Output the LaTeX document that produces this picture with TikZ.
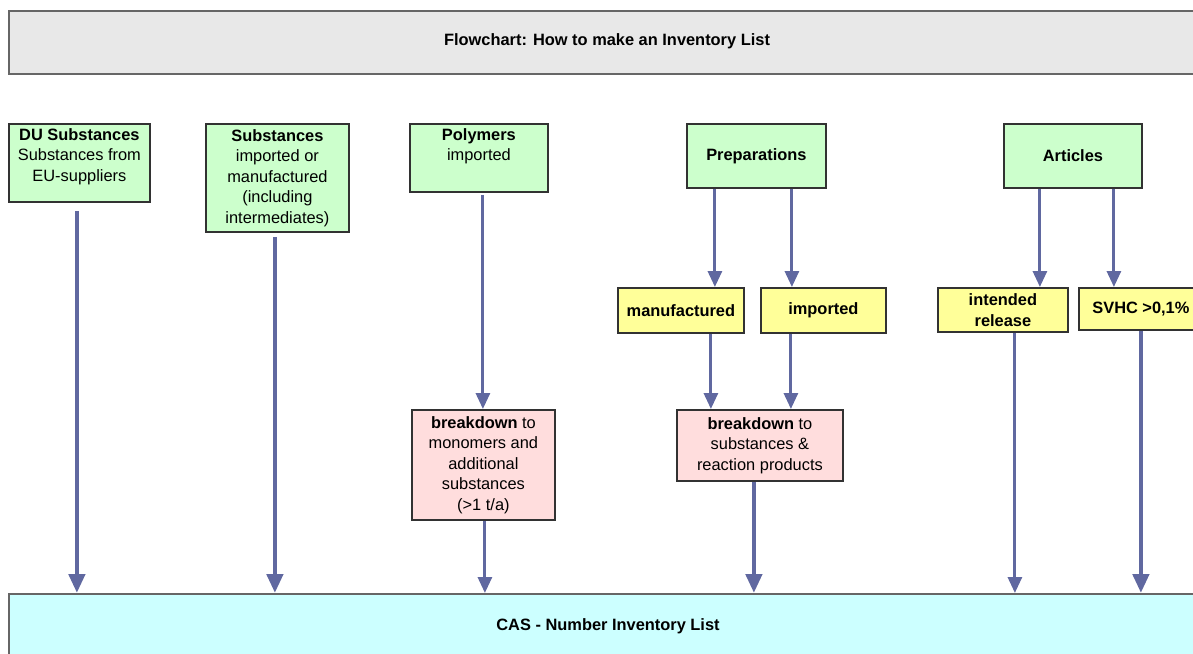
\documentclass[tikz,border=0pt]{standalone}
\usepackage{fontspec}
\setmainfont{Liberation Sans}
\usetikzlibrary{arrows.meta}
\definecolor{boxline}{RGB}{50,50,50}
\definecolor{flowblue}{RGB}{96,104,160}
\definecolor{greenfill}{RGB}{204,255,204}
\definecolor{yellowfill}{RGB}{255,255,153}
\definecolor{pinkfill}{RGB}{255,221,221}
\definecolor{cyanfill}{RGB}{204,255,255}
\definecolor{grayfill}{RGB}{232,232,232}
\tikzset{
  box/.style={draw=boxline, line width=1.8pt, rectangle, inner sep=0pt, anchor=north west},
  gbox/.style={box, fill=greenfill},
  ybox/.style={box, fill=yellowfill},
  pbox/.style={box, fill=pinkfill},
  txt/.style={align=center, inner sep=0pt, font=\fontsize{16.4}{20.5}\selectfont},
  thin arrow/.style={draw=flowblue, line width=3pt,
    -{Triangle[width=14pt,length=16pt]}, color=flowblue},
  thick arrow/.style={draw=flowblue, line width=4.5pt,
    -{Triangle[width=16pt,length=19pt]}, color=flowblue},
}
\begin{document}
\begin{tikzpicture}[x=1pt,y=-1pt]
\useasboundingbox (0,0) rectangle (1193,653);
\begin{scope}
\clip (0,0) rectangle (1193,653);

% title bar
\node[box, draw=gray!80!black, fill=grayfill, minimum width=1198pt, minimum height=63pt] (title) at (8,10) {};
\node[txt] (title-t) at (607,41.5) {\bfseries Flowchart: How to make an Inventory List};

% result bar
\node[box, draw=gray!80!black, fill=cyanfill, minimum width=1200pt, minimum height=66pt] (cas) at (8,593) {};
\node[txt] (cas-t) at (608,626) {\bfseries CAS - Number Inventory List};

% source boxes
\node[gbox, minimum width=141pt, minimum height=78pt] (du) at (8,123) {};
\node[txt, anchor=north] (du-t) at ([yshift=-5pt]du.north) {\bfseries DU Substances\\Substances from\\EU-suppliers};

\node[gbox, minimum width=143pt, minimum height=108pt] (sub) at (205,123) {};
\node[txt] (sub-t) at (sub.center) {\bfseries Substances\\imported or\\manufactured\\(including\\intermediates)};

\node[gbox, minimum width=138pt, minimum height=68pt] (poly) at (409,123) {};
\node[txt, anchor=north] (poly-t) at ([yshift=-5pt]poly.north) {\bfseries Polymers\\imported};

\node[gbox, minimum width=139pt, minimum height=64pt] (prep) at (686,123) {};
\node[txt] (prep-t) at (prep.center) {\bfseries Preparations};

\node[gbox, minimum width=138pt, minimum height=64pt] (art) at (1003,123) {};
\node[txt] (art-t) at (art.center) {\bfseries Articles};

% sub-categories
\node[ybox, minimum width=126pt, minimum height=45pt] (man) at (617,287) {};
\node[txt] (man-t) at (man.center) {\bfseries manufactured};

\node[ybox, minimum width=125pt, minimum height=45pt] (imp) at (760,287) {};
\node[txt] (imp-t) at (imp.center) {\bfseries imported};

\node[ybox, minimum width=130pt, minimum height=44pt] (ir) at (937,287) {};
\node[txt] (ir-t) at (ir.center) {\bfseries intended\\\bfseries release};

\node[ybox, minimum width=124pt, minimum height=42pt] (svhc) at (1078,287) {};
\node[txt] (svhc-t) at (svhc.center) {\bfseries SVHC >0,1\%};

% breakdown boxes
\node[pbox, minimum width=143pt, minimum height=110pt] (bd1) at (411,409) {};
\node[txt] (bd1-t) at (bd1.center) {\textbf{breakdown} to\\monomers and\\additional\\substances\\(>1 t/a)};

\node[pbox, minimum width=166pt, minimum height=71pt] (bd2) at (676,409) {};
\node[txt] (bd2-t) at (bd2.center) {\textbf{breakdown} to\\substances \&\\reaction products};

% connectors
\draw[thick arrow] ([xshift=-2.5pt,yshift=-8pt]du.south) -- ([xshift=-2.5pt]du.south |- cas.north);
\draw[thick arrow] ([xshift=-2.5pt,yshift=-4pt]sub.south) -- ([xshift=-2.5pt]sub.south |- cas.north);

\draw[thin arrow] ([xshift=4pt,yshift=-2pt]poly.south) -- ([xshift=4pt]poly.south |- bd1.north);
\draw[thin arrow] ([xshift=1.5pt]bd1.south) -- ([xshift=1.5pt]bd1.south |- cas.north);

\draw[thin arrow] ([xshift=-41.5pt]prep.south) -- ([xshift=-41.5pt]prep.south |- man.north);
\draw[thin arrow] ([xshift=35.5pt]prep.south) -- ([xshift=35.5pt]prep.south |- imp.north);
\draw[thin arrow] ([xshift=30pt]man.south) -- ([xshift=30pt]man.south |- bd2.north);
\draw[thin arrow] ([xshift=-32.5pt]imp.south) -- ([xshift=-32.5pt]imp.south |- bd2.north);
\draw[thick arrow] ([xshift=-6pt]bd2.south) -- ([xshift=-6pt]bd2.south |- cas.north);

\draw[thin arrow] ([xshift=-33pt]art.south) -- ([xshift=-33pt]art.south |- ir.north);
\draw[thin arrow] ([xshift=41pt]art.south) -- ([xshift=41pt]art.south |- svhc.north);
\draw[thin arrow] ([xshift=12pt]ir.south) -- ([xshift=12pt]ir.south |- cas.north);
\draw[thick arrow] (svhc.south) -- (svhc.south |- cas.north);
\end{scope}
\end{tikzpicture}
\end{document}
